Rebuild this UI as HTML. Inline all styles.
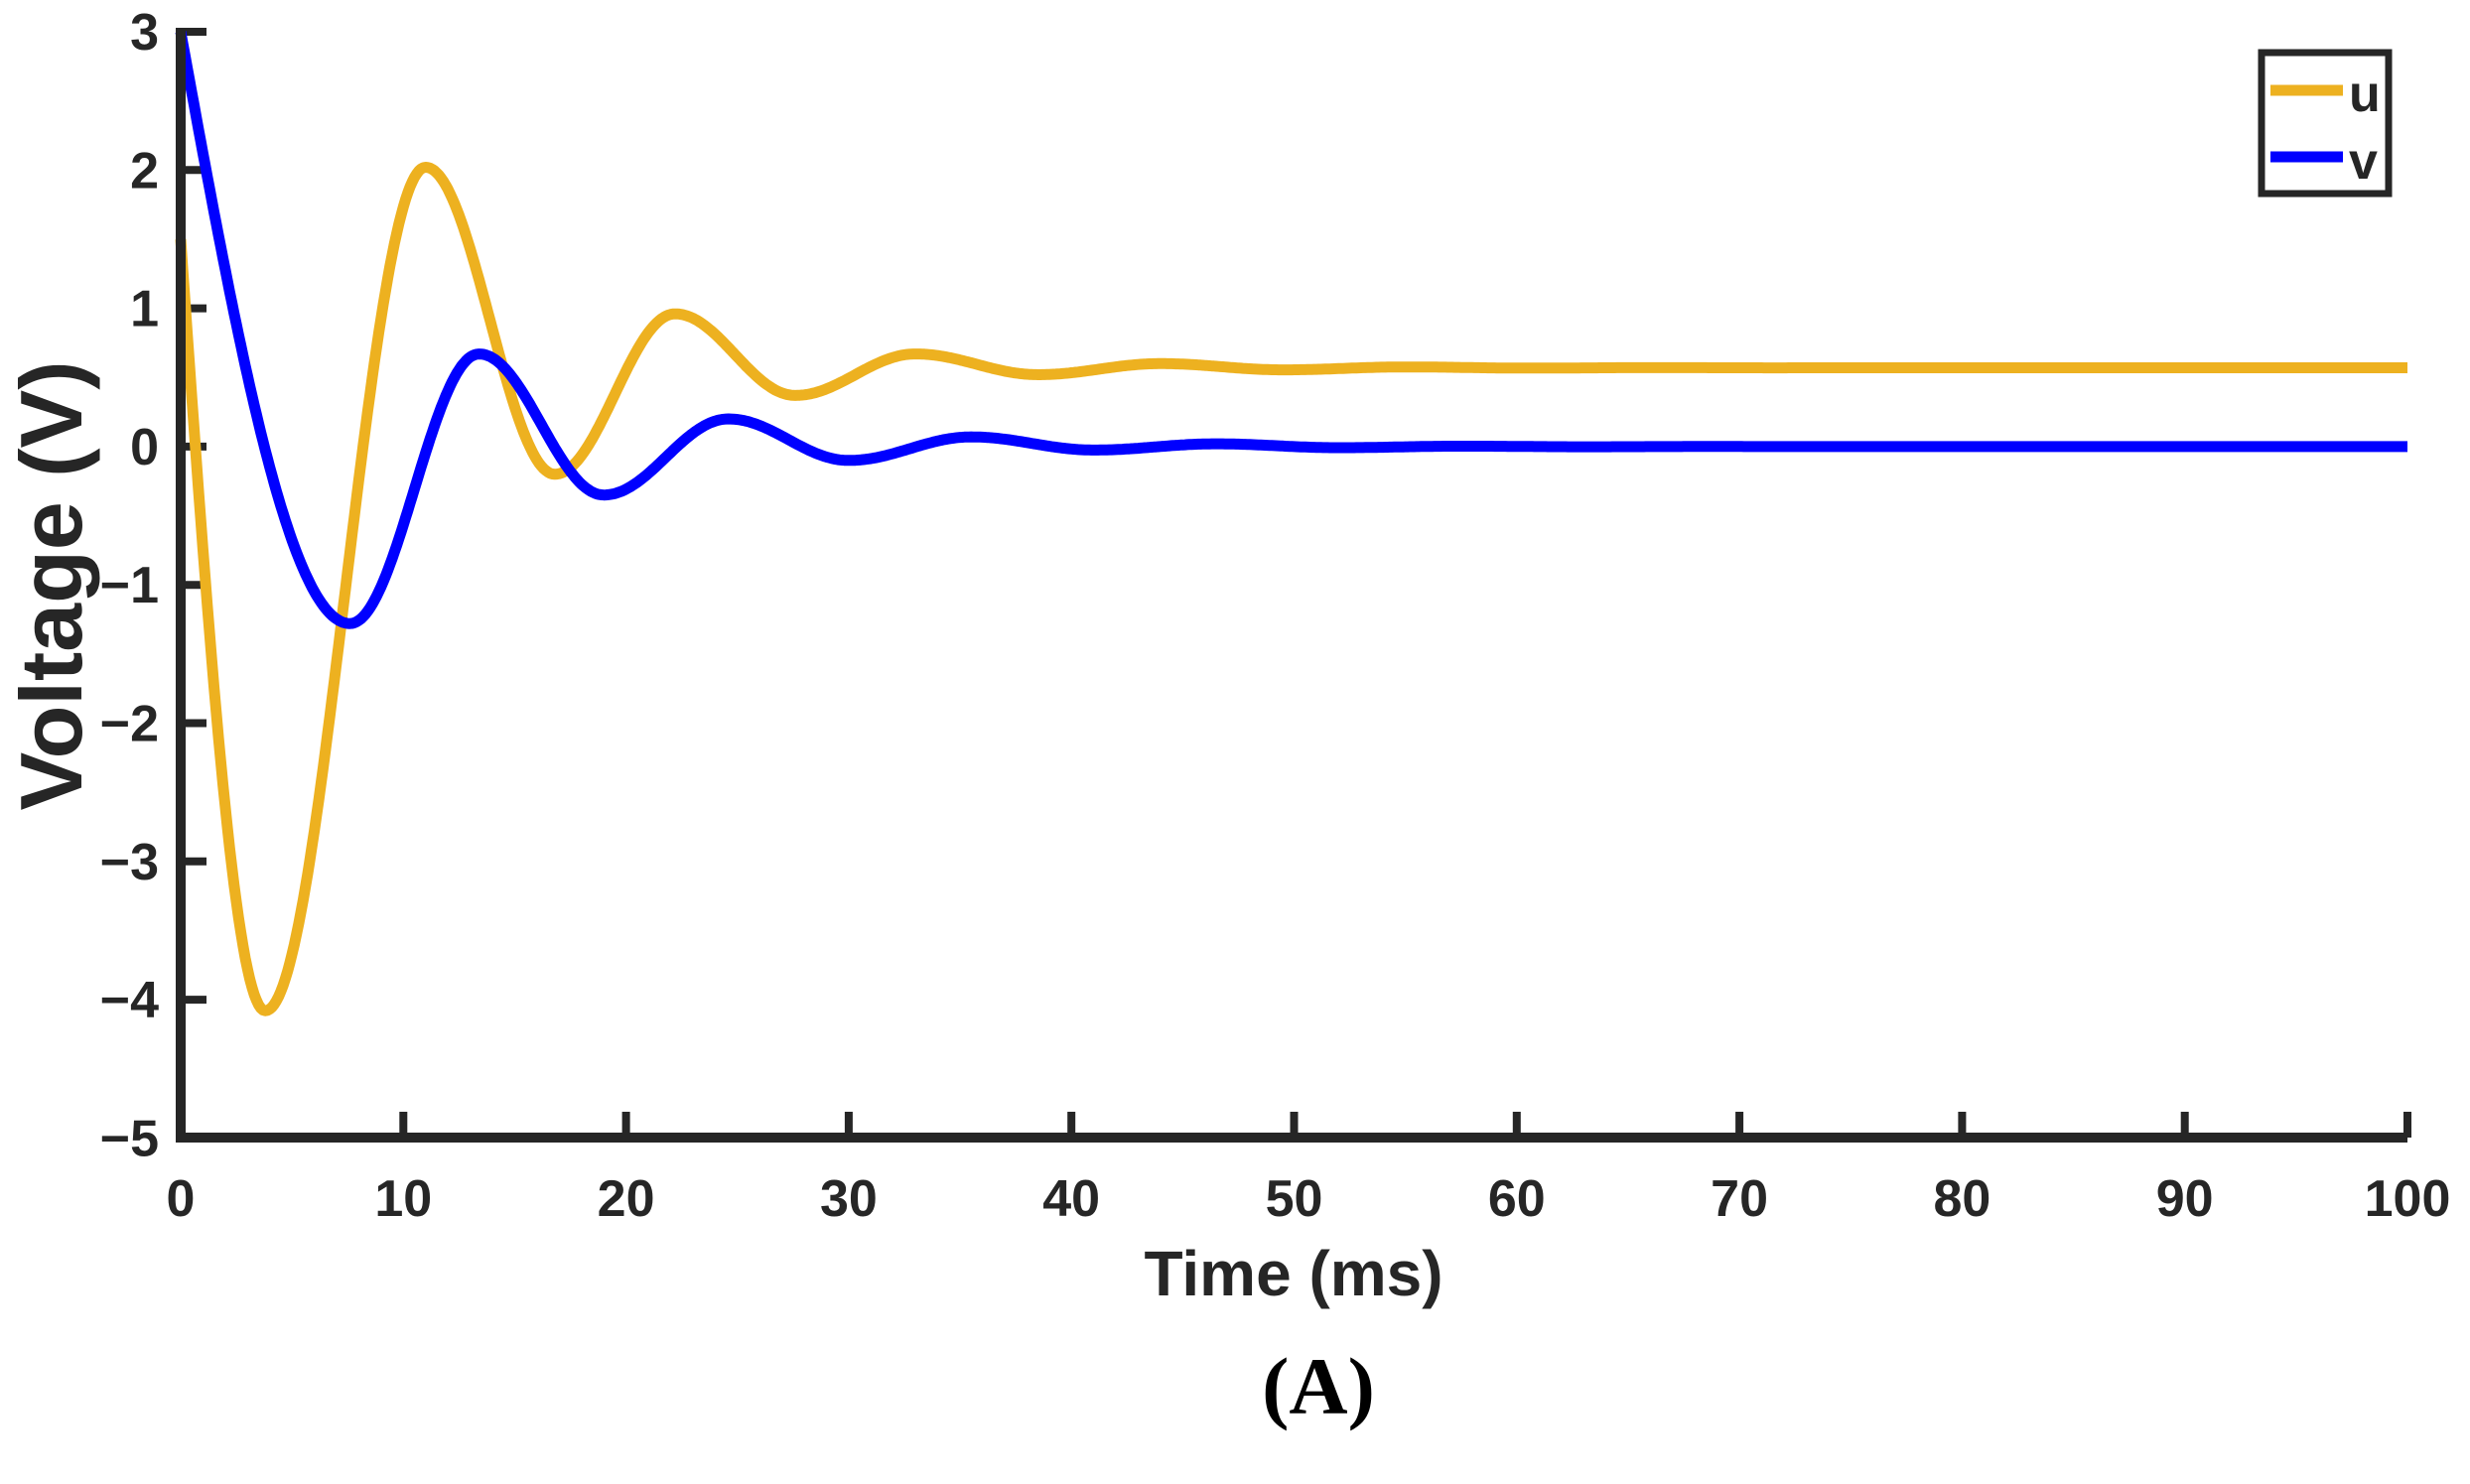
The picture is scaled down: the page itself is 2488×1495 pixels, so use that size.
<!DOCTYPE html>
<html><head><meta charset="utf-8"><style>
html,body{margin:0;padding:0;background:#fff;}
svg{display:block;}
text{font-family:"Liberation Sans",Arial,sans-serif;font-weight:bold;fill:#262626;}
</style></head><body>
<svg id="s" width="2488" height="1495" viewBox="0 0 2488 1495" xmlns="http://www.w3.org/2000/svg">
<g id="ticks" stroke="#262626" stroke-width="8"></g>
<path id="pu" fill="none" stroke="#EDB120" stroke-width="11" stroke-linejoin="round"/>
<path id="pv" fill="none" stroke="#0000FF" stroke-width="11" stroke-linejoin="round"/>
<path d="M182,28 V1146 H2425" fill="none" stroke="#262626" stroke-width="10"/>
<g id="lbl" font-size="52"></g>
<text x="0" y="0" font-size="88" transform="translate(82,590) rotate(-90)" text-anchor="middle">Voltage (V)</text>
<text x="1303" y="1305" font-size="64" text-anchor="middle">Time (ms)</text>
<text x="1328" y="1424" font-size="82" text-anchor="middle" style="font-family:'Liberation Serif',serif;fill:#000">(A)</text>
<rect x="2278" y="53" width="128" height="142" fill="#fff" stroke="#262626" stroke-width="7"/>
<line x1="2287" y1="91" x2="2360" y2="91" stroke="#EDB120" stroke-width="11"/>
<line x1="2287" y1="158" x2="2360" y2="158" stroke="#0000FF" stroke-width="11"/>
<text x="2366" y="112" font-size="52">u</text>
<text x="2366" y="180" font-size="52">v</text>
</svg>
<script>
var X0=182,X1=2425,Y3=32,UY=139.3;
function px(t){return X0+(X1-X0)*t/100;}
function py(v){return Y3+(3-v)*UY;}
var tk=document.getElementById('ticks'),lb=document.getElementById('lbl'),NS='http://www.w3.org/2000/svg';
function el(p,n,a){var e=document.createElementNS(NS,n);for(var k in a)e.setAttribute(k,a[k]);p.appendChild(e);return e;}
for(var v=-5;v<=3;v++){var y=py(v);el(tk,'line',{x1:182,y1:y,x2:208,y2:y});
 var t=el(lb,'text',{x:160,y:y+18,'text-anchor':'end'});t.textContent=(v<0?'\u2212':'')+Math.abs(v);}
for(var i=0;i<=10;i++){var x=px(i*10);el(tk,'line',{x1:x,y1:1146,x2:x,y2:1120});
 var t=el(lb,'text',{x:x,y:1225,'text-anchor':'middle'});t.textContent=i*10;}
function build(pts,base,ratio,per){
 var last=pts[pts.length-1];
 var amp=last[1]-base;
 var tt=last[0];
 while(tt<100){amp=-amp*ratio;tt+=per;pts.push([tt,base+amp]);}
 var d='';
 for(var t=0;t<=100;t+=0.1){
  var k=0;while(k<pts.length-2&&pts[k+1][0]<t)k++;
  var a=pts[k],b=pts[k+1],s=(t-a[0])/(b[0]-a[0]);s=Math.max(0,Math.min(1,s));
  var f=(k==0)?Math.sin(Math.PI/2*s):(1-Math.cos(Math.PI*s))/2;
  var val=a[1]+(b[1]-a[1])*f;
  d+=(t==0?'M':'L')+px(t).toFixed(1)+','+py(val).toFixed(1);
 }
 return d;
}
document.getElementById('pu').setAttribute('d',build([[0,1.5],[3.8,-4.08],[11,2.02],[16.8,-0.2],[22.2,0.96],[27.6,0.37],[33,0.67],[38.5,0.52],[44,0.6],[49.5,0.555]],0.57,0.4,5.5));
document.getElementById('pv').setAttribute('d',build([[0,3],[7.6,-1.28],[13.4,0.67],[19,-0.35],[24.6,0.2],[30,-0.1],[35.5,0.07],[41,-0.025],[46.5,0.02]],0,0.4,5.5));
</script>
</body></html>
